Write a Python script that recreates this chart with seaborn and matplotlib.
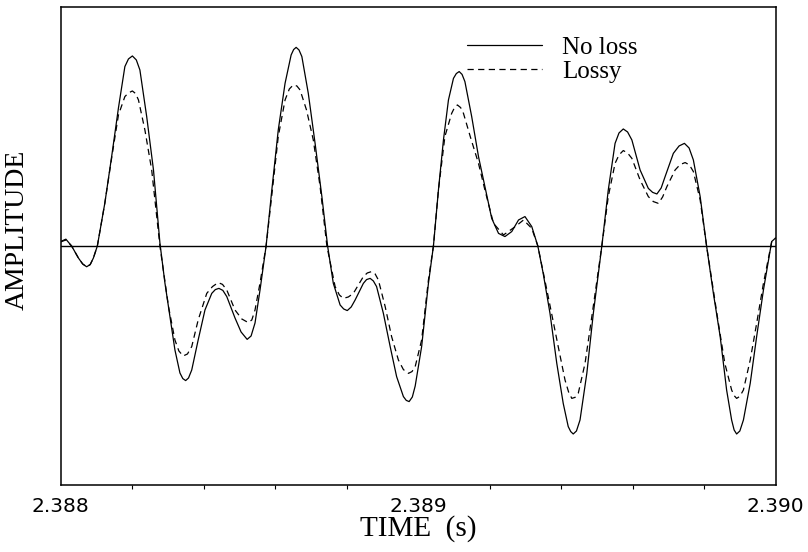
import seaborn as sns
import matplotlib
matplotlib.use("Agg")
import matplotlib.pyplot as plt
from matplotlib.ticker import MultipleLocator

# waveform (time in s, amplitude in arbitrary units)
time_noloss = [
    2.388000, 2.388015, 2.388031, 2.388050, 2.388062, 2.388073, 2.388083, 2.388092,
    2.388103, 2.388124, 2.388143, 2.388162, 2.388180, 2.388190, 2.388201, 2.388212,
    2.388222, 2.388241, 2.388260, 2.388278, 2.388292, 2.388306, 2.388320, 2.388334,
    2.388342, 2.388350, 2.388358, 2.388367, 2.388385, 2.388404, 2.388423, 2.388433,
    2.388443, 2.388454, 2.388465, 2.388488, 2.388505, 2.388522, 2.388533, 2.388544,
    2.388558, 2.388575, 2.388591, 2.388609, 2.388628, 2.388645, 2.388652, 2.388659,
    2.388667, 2.388675, 2.388693, 2.388712, 2.388731, 2.388747, 2.388763, 2.388782,
    2.388792, 2.388802, 2.388813, 2.388824, 2.388847, 2.388856, 2.388866, 2.388875,
    2.388884, 2.388903, 2.388922, 2.388940, 2.388959, 2.388967, 2.388975, 2.388984,
    2.388992, 2.389010, 2.389029, 2.389043, 2.389057, 2.389071, 2.389085, 2.389099,
    2.389107, 2.389115, 2.389123, 2.389131, 2.389150, 2.389169, 2.389187, 2.389206,
    2.389225, 2.389243, 2.389262, 2.389281, 2.389299, 2.389318, 2.389335, 2.389350,
    2.389369, 2.389388, 2.389406, 2.389420, 2.389427, 2.389434, 2.389443, 2.389453,
    2.389472, 2.389490, 2.389514, 2.389532, 2.389551, 2.389562, 2.389574, 2.389586,
    2.389598, 2.389621, 2.389644, 2.389656, 2.389668, 2.389680, 2.389691, 2.389714,
    2.389730, 2.389745, 2.389758, 2.389770, 2.389789, 2.389807, 2.389826, 2.389845,
    2.389863, 2.389877, 2.389884, 2.389891, 2.389900, 2.389910, 2.389929, 2.389947,
    2.389966, 2.389989, 2.390000,
]
amp_noloss = [
    0.022, 0.034, 0.000, -0.060, -0.090, -0.104, -0.093, -0.060,
    0.000, 0.215, 0.447, 0.690, 0.897, 0.935, 0.950, 0.930,
    0.880, 0.647, 0.380, 0.015, -0.185, -0.353, -0.520, -0.635,
    -0.663, -0.673, -0.660, -0.620, -0.470, -0.320, -0.237, -0.218,
    -0.212, -0.222, -0.253, -0.360, -0.430, -0.467, -0.450, -0.385,
    -0.220, 0.000, 0.280, 0.580, 0.813, 0.955, 0.982, 0.993,
    0.980, 0.947, 0.763, 0.513, 0.247, 0.000, -0.187, -0.295,
    -0.315, -0.323, -0.305, -0.270, -0.187, -0.168, -0.162, -0.175,
    -0.203, -0.337, -0.503, -0.653, -0.753, -0.772, -0.778, -0.755,
    -0.700, -0.503, -0.187, 0.000, 0.280, 0.530, 0.730, 0.838,
    0.862, 0.872, 0.858, 0.822, 0.647, 0.447, 0.297, 0.138,
    0.063, 0.047, 0.072, 0.130, 0.147, 0.097, 0.000, -0.137,
    -0.337, -0.587, -0.787, -0.903, -0.928, -0.940, -0.925, -0.870,
    -0.637, -0.340, 0.000, 0.280, 0.513, 0.565, 0.585, 0.570,
    0.530, 0.380, 0.288, 0.268, 0.260, 0.290, 0.347, 0.463,
    0.500, 0.513, 0.490, 0.430, 0.247, 0.000, -0.237, -0.453,
    -0.720, -0.870, -0.920, -0.940, -0.925, -0.870, -0.687, -0.453,
    -0.220, 0.022, 0.040,
]

time_lossy = [
    2.388000, 2.388015, 2.388031, 2.388050, 2.388062, 2.388073, 2.388083, 2.388092,
    2.388103, 2.388124, 2.388143, 2.388162, 2.388180, 2.388190, 2.388201, 2.388210,
    2.388218, 2.388236, 2.388255, 2.388278, 2.388302, 2.388320, 2.388331, 2.388343,
    2.388355, 2.388367, 2.388385, 2.388409, 2.388425, 2.388441, 2.388453, 2.388465,
    2.388488, 2.388507, 2.388525, 2.388535, 2.388544, 2.388558, 2.388575, 2.388591,
    2.388609, 2.388628, 2.388640, 2.388651, 2.388661, 2.388670, 2.388688, 2.388707,
    2.388726, 2.388745, 2.388768, 2.388780, 2.388791, 2.388805, 2.388819, 2.388847,
    2.388858, 2.388870, 2.388880, 2.388889, 2.388908, 2.388926, 2.388945, 2.388959,
    2.388973, 2.388983, 2.388992, 2.389010, 2.389029, 2.389043, 2.389057, 2.389075,
    2.389094, 2.389102, 2.389110, 2.389119, 2.389127, 2.389146, 2.389169, 2.389187,
    2.389211, 2.389239, 2.389272, 2.389295, 2.389318, 2.389335, 2.389364, 2.389392,
    2.389411, 2.389421, 2.389430, 2.389439, 2.389448, 2.389467, 2.389486, 2.389514,
    2.389532, 2.389551, 2.389562, 2.389574, 2.389586, 2.389598, 2.389621, 2.389644,
    2.389658, 2.389672, 2.389684, 2.389696, 2.389719, 2.389733, 2.389747, 2.389759,
    2.389770, 2.389789, 2.389807, 2.389840, 2.389858, 2.389877, 2.389884, 2.389891,
    2.389900, 2.389910, 2.389929, 2.389947, 2.389966, 2.389989, 2.390000,
]
amp_lossy = [
    0.020, 0.030, 0.000, -0.060, -0.090, -0.104, -0.093, -0.060,
    0.000, 0.215, 0.440, 0.655, 0.747, 0.765, 0.775, 0.762,
    0.730, 0.580, 0.380, 0.000, -0.303, -0.470, -0.525, -0.550,
    -0.540, -0.503, -0.370, -0.237, -0.203, -0.183, -0.192, -0.220,
    -0.320, -0.365, -0.383, -0.370, -0.320, -0.185, 0.000, 0.255,
    0.547, 0.730, 0.785, 0.805, 0.800, 0.780, 0.680, 0.530,
    0.297, 0.000, -0.203, -0.245, -0.262, -0.255, -0.237, -0.153,
    -0.135, -0.128, -0.140, -0.170, -0.303, -0.453, -0.570, -0.618,
    -0.637, -0.628, -0.603, -0.470, -0.170, 0.000, 0.280, 0.547,
    0.663, 0.692, 0.705, 0.692, 0.663, 0.547, 0.413, 0.280,
    0.113, 0.055, 0.097, 0.130, 0.088, 0.000, -0.253, -0.503,
    -0.670, -0.730, -0.762, -0.757, -0.737, -0.587, -0.353, 0.000,
    0.247, 0.413, 0.455, 0.477, 0.465, 0.438, 0.330, 0.247,
    0.222, 0.213, 0.245, 0.297, 0.380, 0.407, 0.417, 0.405,
    0.372, 0.230, 0.000, -0.387, -0.587, -0.720, -0.748, -0.762,
    -0.752, -0.720, -0.570, -0.387, -0.187, 0.020, 0.040,
]

tick_values = [2.388, 2.389, 2.390]
tick_labels = ["2.388", "2.389", "2.390"]

sns.set_style("white")
plt.rcParams["font.family"] = ["Liberation Serif", "DejaVu Serif"]
plt.rcParams["text.color"] = "black"
plt.rcParams["axes.labelcolor"] = "black"
plt.rcParams["xtick.color"] = "black"

fig = plt.figure(figsize=(8.08, 5.52), dpi=100)
ax = fig.add_axes([0.0749, 0.1214, 0.885, 0.866])

sns.lineplot(x=time_noloss, y=amp_noloss, ax=ax, color="black", lw=0.9,
             label="No loss")
sns.lineplot(x=time_lossy, y=amp_lossy, ax=ax, color="black", lw=0.9,
             linestyle=(0, (5, 3.5)), label="Lossy")
ax.axhline(0, color="black", lw=1.0)

ax.set_xlim(2.388, 2.390)
ax.set_ylim(-1.195, 1.195)
ax.set_yticks([])
ax.set_xticks(tick_values)
ax.set_xticklabels(tick_labels, family="DejaVu Sans", fontsize=14.5)
ax.xaxis.set_minor_locator(MultipleLocator(0.0002))
ax.tick_params(axis="x", which="major", direction="out", length=6, width=1,
               color="black", pad=3)
ax.tick_params(axis="x", which="minor", direction="out", length=3, width=0.8,
               color="black", bottom=True)

for sp in ax.spines.values():
    sp.set_visible(True)
    sp.set_color("black")
    sp.set_linewidth(1.1)

ax.set_xlabel("TIME  (s)", fontsize=21, labelpad=-1)
ax.set_ylabel("AMPLITUDE", fontsize=20)
ax.yaxis.set_label_coords(-0.043, 0.533)

leg = ax.legend(loc="upper left", bbox_to_anchor=(0.5685, 0.938), frameon=False,
                fontsize=18, handlelength=3.0, handletextpad=0.8,
                labelspacing=0.05, borderpad=0, borderaxespad=0)

fig.savefig("out.png", dpi=100)
